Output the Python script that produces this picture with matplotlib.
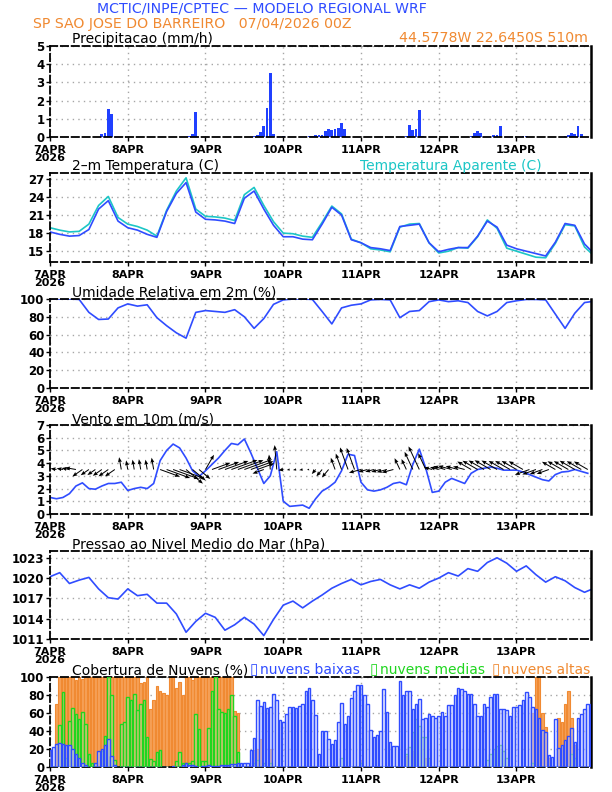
import numpy as np
import matplotlib
matplotlib.use("Agg")
import matplotlib.pyplot as plt

# ---- data (hours since 07APR2026 00Z) ----
hours = np.arange(168)
hours3 = list(range(0, 166, 3)) + [167]
hours2 = list(range(0, 168, 2))

day_ticks = [0, 24, 48, 72, 96, 120, 144]
day_labels = ["7APR\n2026", "8APR", "9APR", "10APR", "11APR", "12APR", "13APR"]

precip_nonzero = {16: 0.15, 17: 0.22, 18: 1.55, 19: 1.25,
                  43: 0.08, 44: 0.15, 45: 1.35,
                  63: 0.03, 64: 0.12, 65: 0.25, 66: 0.6, 67: 1.6, 68: 3.5, 69: 0.15, 72: 0.05,
                  80: 0.03, 81: 0.05, 82: 0.1, 83: 0.12, 84: 0.12, 85: 0.35, 86: 0.45, 87: 0.4,
                  88: 0.42, 89: 0.5, 90: 0.75, 91: 0.45,
                  110: 0.05, 111: 0.65, 112: 0.4, 113: 0.45, 114: 1.5, 115: 0.08,
                  130: 0.03, 131: 0.2, 132: 0.35, 133: 0.2,
                  137: 0.1, 138: 0.1, 139: 0.6, 146: 0.05, 147: 0.05,
                  159: 0.05, 160: 0.1, 161: 0.2, 162: 0.15, 163: 0.6, 164: 0.15}

temp = [18.2, 17.8, 17.5, 17.6, 18.6, 22.0, 23.4, 20.0, 18.9, 18.5, 17.8, 17.3, 21.6, 24.6,
        26.4, 21.5, 20.3, 20.2, 20.0, 19.6, 23.8, 25.0, 22.0, 19.3, 17.4, 17.4, 17.0, 16.9,
        19.5, 22.3, 21.0, 16.9, 16.4, 15.6, 15.4, 15.1, 19.1, 19.3, 19.5, 16.4, 14.9, 15.3,
        15.6, 15.6, 17.5, 20.0, 19.0, 16.0, 15.4, 15.0, 14.6, 14.2, 16.5, 19.6, 19.3, 16.2, 15.1]
temp_apar = [18.9, 18.5, 18.2, 18.3, 19.5, 22.6, 24.1, 20.6, 19.5, 19.1, 18.5, 17.5, 21.8, 25.0,
             27.2, 22.0, 20.8, 20.7, 20.5, 20.1, 24.4, 25.6, 22.6, 19.9, 18.0, 17.9, 17.5, 17.3,
             19.8, 22.5, 21.2, 17.0, 16.4, 15.4, 15.2, 14.9, 19.0, 19.5, 19.6, 16.4, 14.7, 15.0,
             15.6, 15.5, 17.4, 20.2, 18.8, 15.5, 15.0, 14.5, 14.0, 13.9, 16.3, 19.4, 19.2, 15.7, 14.7]

umid = [100, 100, 100, 99.5, 85, 77, 77.5, 90, 94.5, 92, 93.5, 79, 70, 62, 56, 85, 87, 86, 85,
        88, 80, 67, 78, 94, 99, 100, 100, 99.5, 86, 72, 90, 93, 94.5, 99, 99.5, 99, 79, 86, 87,
        97, 99, 97, 98, 96, 86, 81, 86, 96, 98, 99.5, 99.5, 99, 83, 67, 84, 96, 97]

pressao = [1020.2, 1020.8, 1019.2, 1019.7, 1020.1, 1018.4, 1017.1, 1016.9, 1018.4, 1017.4,
           1017.6, 1016.3, 1016.3, 1014.7, 1012.0, 1013.6, 1014.8, 1014.2, 1012.3, 1013.1,
           1014.2, 1013.2, 1011.5, 1013.9, 1016.0, 1016.6, 1015.6, 1016.6, 1017.5, 1018.5,
           1019.2, 1019.8, 1019.0, 1019.5, 1019.8, 1019.0, 1018.4, 1019.0, 1018.5, 1019.4,
           1020.0, 1020.8, 1020.3, 1021.4, 1021.0, 1022.3, 1023.0, 1022.2, 1021.0, 1021.8,
           1020.5, 1019.4, 1020.2, 1019.6, 1018.6, 1017.9, 1018.3]

vento = [1.3, 1.2, 1.3, 1.6, 2.2, 2.45, 2.0, 1.95, 2.2, 2.4, 2.4, 2.5, 1.85, 2.0, 2.1, 2.0,
         2.4, 4.2, 5.0, 5.5, 5.2, 4.4, 3.4, 2.95, 3.4, 3.9, 4.4, 5.0, 5.55, 5.45, 5.9, 4.8,
         3.6, 2.4, 3.0, 4.9, 1.0, 0.6, 0.65, 0.7, 0.45, 1.2, 1.8, 2.1, 2.5, 3.4, 4.7, 4.6,
         2.5, 1.9, 1.8, 1.9, 2.1, 2.4, 2.5, 2.3, 3.9, 5.1, 3.6, 1.7, 1.8, 2.5, 2.8, 2.6,
         2.4, 3.2, 3.5, 3.6, 3.7, 3.6, 3.45, 3.45, 3.45, 3.3, 3.1, 2.9, 2.7, 2.6, 3.1, 3.3,
         3.35, 3.5, 3.35, 3.2]
# direction the arrow points (degrees, counter-clockwise from east)
vento_dir = [170, 170, 170, 170, 170, 215, 215, 215, 215, 215, 215, 100, 100, 100, 100, 100,
             100, -20, -20, -20, -20, -40, -40, -40, 60, 20, 20, 20, 20, 20, 20, 20,
             20, 200, 95, 95, 190, 190, 190, 190, 190, 230, 230, 230, 110, 110, 110, 110,
             195, 195, 195, 195, 195, 195, 115, 115, 115, 115, 115, 165, 165, 165, 165, 165,
             165, 150, 150, 150, 150, 150, 150, 150, 150, 150, 200, 200, 200, 200, 150, 150,
             150, 150, 150, 150]

nuvens_baixas = (
    [19, 22, 26, 27, 26, 25, 24, 20, 15, 10, 5, 2, 0, 0, 5, 18, 20, 25, 31, 12, 2, 0, 0, 0] +
    [0, 0, 0, 0, 0, 0, 0, 0, 0, 0, 0, 0, 0, 0, 1, 0, 0, 2, 5, 2, 2, 1, 0, 1] +
    [1, 2, 1, 1, 1, 2, 2, 2, 3, 3, 4, 5, 5, 4, 19, 32, 75, 68, 72, 66, 67, 81, 75, 52] +
    [50, 59, 67, 67, 66, 68, 70, 85, 88, 75, 58, 15, 40, 40, 31, 26, 30, 50, 71, 48, 57, 77, 84, 91] +
    [91, 80, 70, 41, 33, 36, 40, 87, 61, 28, 23, 23, 96, 80, 84, 85, 65, 70, 76, 53, 55, 59, 57, 54] +
    [57, 61, 57, 69, 69, 80, 88, 87, 84, 81, 81, 70, 57, 57, 70, 67, 78, 81, 81, 65, 65, 63, 57, 67] +
    [67, 69, 75, 83, 78, 67, 65, 54, 41, 39, 13, 11, 53, 21, 24, 30, 34, 43, 28, 54, 59, 64, 70, 70])
nuvens_medias = (
    [0, 0, 0, 47, 83, 10, 51, 66, 59, 53, 61, 48, 15, 5, 0, 0, 18, 35, 100, 80, 8, 0, 48, 50] +
    [78, 74, 81, 63, 70, 74, 33, 9, 7, 17, 19, 0, 0, 0, 0, 7, 17, 5, 5, 5, 7, 59, 42, 7] +
    [7, 43, 85, 100, 65, 61, 60, 65, 80, 57, 17, 0, 0, 0, 0, 5, 8, 0, 5, 0, 5, 0, 0, 0] +
    [0, 0, 0, 0, 0, 0, 0, 0, 0, 0, 0, 0, 0, 0, 0, 0, 0, 0, 10, 0, 0, 0, 0, 0] +
    [5, 0, 0, 0, 0, 0, 0, 0, 0, 0, 0, 0, 0, 0, 15, 22, 39, 53, 46, 33, 33, 10, 0, 0] +
    [0, 0, 0, 0, 0, 0, 0, 0, 0, 0, 0, 0, 0, 0, 0, 8, 15, 20, 23, 25, 18, 10, 0, 0] +
    [0, 0, 0, 0, 0, 5, 0, 0, 0, 0, 0, 0, 0, 0, 0, 0, 0, 14, 10, 0, 0, 0, 0, 0])
nuvens_altas = (
    [0, 0, 70, 100, 100, 100, 100, 100, 97, 100, 98, 100, 100, 100, 100, 100, 100, 100, 100, 100, 100, 100, 100, 100] +
    [100, 100, 100, 100, 93, 95, 100, 65, 75, 90, 84, 82, 80, 100, 100, 88, 94, 80, 100, 100, 97, 100, 100, 100] +
    [100, 100, 100, 100, 100, 100, 100, 100, 100, 62, 60, 0, 0, 0, 0, 19, 20, 31, 0, 0, 20, 0, 0, 0] +
    [0] * 24 +
    [8, 0, 0, 0, 0, 0, 0, 0, 0, 0, 0, 0, 0, 0, 12, 0, 18, 0, 0, 0, 10, 0, 0, 0] +
    [0] * 24 +
    [0, 0, 0, 0, 0, 60, 100, 100, 60, 45, 10, 0, 0, 55, 50, 70, 85, 55, 25, 0, 0, 0, 0, 0])

# ---- colours ----
AZUL = '#2f4cff'
CIANO = '#1cc6c6'
LARANJA = '#f08a32'
VERDE = '#1fd61f'

W, H = 612, 792
fig = plt.figure(figsize=(W / 100, H / 100), dpi=100)


def box(x0, y0, x1, y1):
    return [x0 / W, 1 - y1 / H, (x1 - x0) / W, (y1 - y0) / H]


def ftext(x, y, s, **kw):
    fig.text(x / W, 1 - y / H, s, va='center', **kw)


def estilo(ax, ylim, yticks):
    ax.set_xlim(0, 167)
    ax.set_ylim(*ylim)
    ax.set_yticks(yticks)
    ax.set_xticks(day_ticks)
    ax.set_xticklabels(day_labels, linespacing=0.85)
    ax.set_axisbelow(True)
    ax.grid(True, color='#a6a6a6', linestyle=(0, (1, 3)), linewidth=1.0)
    for s in ['left', 'top', 'bottom']:
        ax.spines[s].set_linestyle((0, (4, 2)))
        ax.spines[s].set_linewidth(1.3)
    ax.spines['right'].set_linewidth(1.8)
    ax.tick_params(axis='x', labelsize=8, length=3, width=1, pad=2.5)
    ax.tick_params(axis='y', labelsize=8.5, length=3, width=1, pad=1)
    for lab in ax.get_xticklabels() + ax.get_yticklabels():
        lab.set_fontweight('bold')


# header
ftext(262, 9, "MCTIC/INPE/CPTEC \u2014 MODELO REGIONAL WRF", color=AZUL, fontsize=10.2, ha='center')
ftext(33, 24, "SP SAO JOSE DO BARREIRO   07/04/2026 00Z", color=LARANJA, fontsize=10.2, ha='left')

# 1 precipitacao
ax1 = fig.add_axes(box(50, 46, 591, 137))
precip = np.zeros(168)
for h, v in precip_nonzero.items():
    precip[h] = v
ax1.bar(hours, precip, width=0.85, color='#2040ff', linewidth=0)
estilo(ax1, (0, 5), range(0, 6))
ftext(72, 39, "Precipitacao (mm/h)", fontsize=10)
ftext(588, 38, "44.5778W 22.6450S 510m", color=LARANJA, fontsize=10.2, ha='right')

# 2 temperatura
ax2 = fig.add_axes(box(50, 173, 591, 262))
ax2.plot(hours3, temp_apar, color=CIANO, lw=1.2)
ax2.plot(hours3, temp, color=AZUL, lw=1.2)
estilo(ax2, (13.2, 28.0), [15, 18, 21, 24, 27])
ftext(72, 166, "2\u2013m Temperatura (C)", fontsize=10)
ftext(360, 166, "Temperatura Aparente (C)", color=CIANO, fontsize=10)

# 3 umidade
ax3 = fig.add_axes(box(50, 299, 591, 388))
ax3.plot(hours3, umid, color=AZUL, lw=1.2)
estilo(ax3, (0, 100), range(0, 101, 20))
ftext(72, 292, "Umidade Relativa em 2m (%)", fontsize=10)

# 4 vento
ax4 = fig.add_axes(box(50, 425, 591, 514))
ax4.plot(hours2, vento, color=AZUL, lw=1.2, zorder=2)
ang = np.radians(vento_dir)
u = np.array(vento) * np.cos(ang)
v = np.array(vento) * np.sin(ang)
ax4.quiver(hours2, np.full(len(hours2), 3.5), u, v, angles='uv', scale_units='dots',
           scale=1 / 5.0, units='dots', width=1.0, headwidth=4, headlength=5,
           headaxislength=4.5, color='black', zorder=3)
estilo(ax4, (0, 7), range(0, 8))
ftext(72, 419, "Vento em 10m (m/s)", fontsize=10)

# 5 pressao
ax5 = fig.add_axes(box(50, 551, 591, 639))
ax5.plot(hours3, pressao, color=AZUL, lw=1.2)
estilo(ax5, (1011, 1024), [1011, 1014, 1017, 1020, 1023])
ftext(72, 545, "Pressao ao Nivel Medio do Mar (hPa)", fontsize=10)

# 6 nuvens
ax6 = fig.add_axes(box(50, 677, 591, 767))
ax6.bar(hours, nuvens_altas, width=0.8, color='#f6a158', edgecolor='#f08a32', linewidth=0.8, zorder=2)
ax6.bar(hours, nuvens_medias, width=0.8, color=(0.75, 1.0, 0.75, 0.35), edgecolor=VERDE,
        linewidth=1.0, zorder=3)
ax6.bar(hours, nuvens_baixas, width=0.8, color=(0.85, 0.87, 1.0, 0.55), edgecolor=AZUL,
        linewidth=1.0, zorder=4)
estilo(ax6, (0, 100), range(0, 101, 20))
ftext(72, 670, "Cobertura de Nuvens (%)", fontsize=10)
ftext(250, 670, "\u25af", color=AZUL, fontsize=11)
ftext(260, 670, "nuvens baixas", color=AZUL, fontsize=10)
ftext(370, 670, "\u25af", color=VERDE, fontsize=11)
ftext(380, 670, "nuvens medias", color=VERDE, fontsize=10)
ftext(492, 670, "\u25af", color=LARANJA, fontsize=11)
ftext(502, 670, "nuvens altas", color=LARANJA, fontsize=10)

fig.savefig("out.png", dpi=100)
